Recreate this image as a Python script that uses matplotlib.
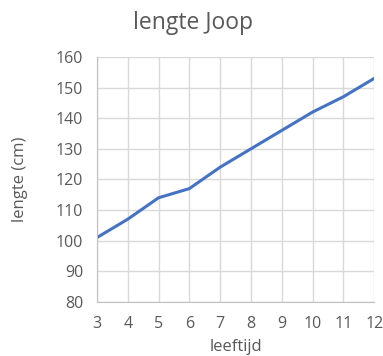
import matplotlib.pyplot as plt

leeftijd = [3, 4, 5, 6, 7, 8, 9, 10, 11, 12]
lengte = [101, 107, 114, 117, 124, 130, 136, 142, 147, 153]
y_ticks = [80, 90, 100, 110, 120, 130, 140, 150, 160]

plt.rcParams['font.family'] = ['Open Sans', 'DejaVu Sans']
txt = '#595959'
grid = '#d9d9d9'

fig = plt.figure(figsize=(3.83, 3.56), dpi=100)
ax = fig.add_axes([0.253, 0.152, 0.724, 0.688])

ax.plot(leeftijd, lengte, color='#4472c4', linewidth=2.2, solid_capstyle='round')

ax.set_xlim(3, 12)
ax.set_ylim(80, 160)
ax.set_xticks(leeftijd)
ax.set_yticks(y_ticks)
ax.grid(True, color=grid, linewidth=1)
ax.set_axisbelow(True)
for s in ['top', 'right']:
    ax.spines[s].set_visible(False)
for s in ['left', 'bottom']:
    ax.spines[s].set_color('#bfbfbf')
ax.tick_params(length=0, colors=txt, labelsize=11.5, pad=10)

ax.set_xlabel('leeftijd', color=txt, fontsize=12, labelpad=5)
ax.set_ylabel('lengte (cm)', color=txt, fontsize=12, labelpad=20)
fig.suptitle('lengte Joop', x=0.505, y=0.97, color=txt, fontsize=16.5)

fig.savefig('out.png', dpi=100)
